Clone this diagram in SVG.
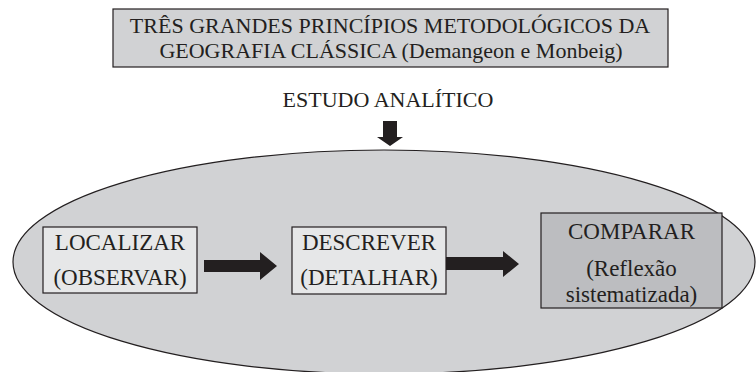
<svg xmlns="http://www.w3.org/2000/svg" width="756" height="372" viewBox="0 0 756 372">
<style>
text{font-family:"Liberation Serif","Times New Roman",serif;fill:#231f20;text-anchor:middle}
.t{font-size:22px}
.b{font-size:23px}
.box{stroke:#231f20;stroke-width:1.2}
.arr{fill:#231f20}
</style>
<rect width="756" height="372" fill="#ffffff"/>
<g id="title">
<rect class="box" x="113" y="9" width="555" height="58" fill="#d1d2d4"/>
<text class="t" x="390" y="33">TRÊS GRANDES PRINCÍPIOS METODOLÓGICOS DA</text>
<text class="t" x="391" y="58">GEOGRAFIA CLÁSSICA (Demangeon e Monbeig)</text>
</g>
<g id="estudo">
<text class="t" x="388" y="107">ESTUDO ANALÍTICO</text>
</g>
<g id="ellipse">
<ellipse cx="384" cy="262" rx="371" ry="112" fill="#d1d2d4" stroke="#231f20" stroke-width="1.2"/>
</g>
<g id="connectors">
<polygon class="arr" points="383,121 397,121 397,137 403,137 390,146 377,137 383,137"/>
<polygon class="arr" points="204,260 260,260 260,252 277,266 260,280 260,272 204,272"/>
<polygon class="arr" points="446,257 503,257 503,251 519,264 503,277 503,270 446,270"/>
</g>
<g id="localizar">
<rect class="box" x="43" y="227" width="154" height="66" fill="#e6e7e8"/>
<text class="b" x="120" y="250">LOCALIZAR</text>
<text class="b" x="120" y="285">(OBSERVAR)</text>
</g>
<g id="descrever">
<rect class="box" x="292" y="227" width="154" height="67" fill="#e6e7e8"/>
<text class="b" x="369" y="250">DESCREVER</text>
<text class="b" x="369" y="285">(DETALHAR)</text>
</g>
<g id="comparar">
<rect class="box" x="541" y="213" width="181" height="95" fill="#bcbdc0"/>
<text class="b" x="631.5" y="239">COMPARAR</text>
<text class="b" x="631.5" y="276">(Reflexão</text>
<text class="b" x="631.5" y="302">sistematizada)</text>
</g>
</svg>
